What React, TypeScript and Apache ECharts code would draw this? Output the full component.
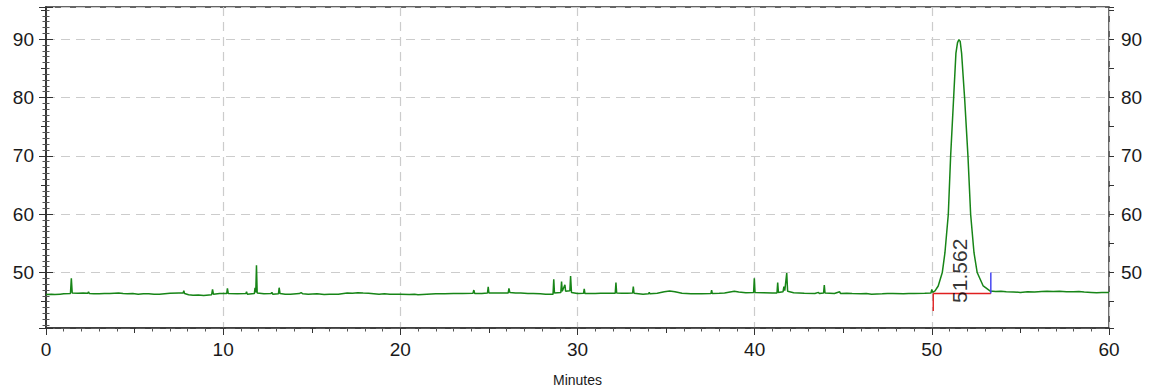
import React, { useEffect, useRef } from "react";
import * as echarts from "echarts";

// ---- data (minutes, response) ----
const baselineBeforePeak: [number, number][] = [
  [0, 46.25], [0.3, 46.3], [0.5, 46.22], [0.8, 46.3], [1.0, 46.35], [1.38, 46.4], [1.43, 49.0], [1.48, 46.5],
  [1.8, 46.45], [2.1, 46.5], [2.35, 46.45], [2.4, 46.7], [2.45, 46.4], [2.7, 46.35], [3.0, 46.35], [3.3, 46.42], [3.6, 46.4],
  [4.1, 46.5], [4.35, 46.42], [4.6, 46.35], [4.9, 46.4], [5.2, 46.3], [5.5, 46.38], [5.8, 46.35], [6.1, 46.28], [6.4, 46.3], [6.7, 46.38], [7.0, 46.45],
  [7.5, 46.5], [7.74, 46.5], [7.78, 46.9], [7.82, 46.4], [8.05, 46.2], [8.3, 46.1], [8.6, 46.15], [8.9, 46.05],
  [9.35, 46.2], [9.4, 47.1], [9.45, 46.3], [9.8, 46.4], [10.2, 46.4], [10.24, 47.3],
  [10.29, 46.4], [10.8, 46.35], [11.28, 46.4], [11.32, 46.7], [11.36, 46.3], [11.76, 46.4],
  [11.8, 47.4], [11.84, 46.6], [11.88, 51.25], [11.92, 46.5], [12.3, 46.35], [12.7, 46.4],
  [12.75, 46.6], [12.8, 46.3], [13.12, 46.35], [13.16, 47.4], [13.21, 46.4], [13.5, 46.28], [13.8, 46.3],
  [14.3, 46.4], [14.4, 46.55], [14.5, 46.35], [14.8, 46.3], [15.3, 46.35], [15.7, 46.25], [16.0, 46.3], [16.5, 46.3],
  [17.0, 46.5], [17.3, 46.45], [17.6, 46.55], [17.9, 46.48], [18.2, 46.45], [18.5, 46.38], [18.8, 46.3], [19.1, 46.35], [19.4, 46.3], [20.0, 46.3],
  [20.5, 46.25], [20.8, 46.3], [21.0, 46.2], [21.5, 46.3], [22.0, 46.35], [22.5, 46.35], [23.0, 46.4],
  [23.5, 46.4], [24.1, 46.45], [24.15, 47.0], [24.2, 46.4], [24.6, 46.4], [24.92, 46.5],
  [24.96, 47.55], [25.0, 46.5], [25.6, 46.5], [26.09, 46.5], [26.13, 47.3], [26.18, 46.6],
  [26.5, 46.48], [26.8, 46.5], [27.2, 46.42], [27.5, 46.4], [27.9, 46.35], [28.2, 46.3], [28.62, 46.3], [28.66, 48.85], [28.7, 46.5],
  [29.06, 46.6], [29.1, 48.45], [29.14, 46.8], [29.29, 47.9], [29.33, 46.8], [29.57, 46.9],
  [29.61, 49.4], [29.66, 46.6], [30.0, 46.4], [30.34, 46.45], [30.38, 47.2], [30.42, 46.4],
  [31.0, 46.4], [31.3, 46.45], [31.6, 46.45], [32.13, 46.45], [32.17, 48.3], [32.21, 46.5], [32.5, 46.45], [32.8, 46.45],
  [33.11, 46.5], [33.15, 47.6], [33.19, 46.45], [33.7, 46.3], [34.01, 46.35], [34.05, 46.6],
  [34.09, 46.35], [34.5, 46.45], [34.9, 46.7], [35.2, 46.85], [35.5, 46.7], [35.9, 46.45],
  [36.4, 46.35], [36.7, 46.38], [37.0, 46.35], [37.53, 46.4], [37.57, 47.0], [37.61, 46.4], [38.0, 46.45], [38.3, 46.5],
  [38.85, 46.8], [39.1, 46.65], [39.5, 46.55], [39.94, 46.6], [39.98, 49.0], [40.02, 46.6],
  [40.5, 46.55], [41.0, 46.5], [41.26, 46.5], [41.3, 48.3], [41.34, 46.6], [41.6, 46.7],
  [41.65, 47.6], [41.7, 46.9], [41.81, 49.9], [41.86, 46.8], [42.2, 46.55], [42.8, 46.45],
  [43.4, 46.4], [43.6, 46.6], [43.65, 46.4], [43.89, 46.5], [43.93, 47.85], [43.97, 46.5],
  [44.5, 46.4], [44.8, 46.7], [44.85, 46.4], [45.2, 46.45], [45.5, 46.4], [46.0, 46.35], [46.3, 46.4], [46.6, 46.3],
  [47.2, 46.35], [47.5, 46.42], [47.8, 46.4], [48.4, 46.35], [48.7, 46.42], [49.0, 46.4], [49.6, 46.45], [49.95, 46.5],
  [50.0, 47.1], [50.05, 46.6],
];

const peakProfile: [number, number][] = [
  [50.18, 46.85], [50.36, 47.7], [50.59, 50.0], [50.74, 53.4], [50.93, 60.0], [51.06, 69.9],
  [51.23, 79.9], [51.36, 87.6], [51.45, 89.4], [51.53, 89.9], [51.6, 89.6], [51.68, 87.6],
  [51.85, 79.9], [52.04, 69.9], [52.19, 60.0], [52.38, 53.4], [52.56, 50.0], [52.9, 47.7],
  [53.28, 46.85],
];

const baselineAfterPeak: [number, number][] = [
  [53.6, 46.75], [53.9, 46.8], [54.2, 46.7], [54.6, 46.68], [55.0, 46.6], [55.4, 46.7], [55.8, 46.65], [56.2, 46.75], [56.5, 46.8], [56.85, 46.75], [57.2, 46.8],
  [57.6, 46.72], [58.0, 46.7], [58.3, 46.75], [58.6, 46.65], [59.0, 46.6], [59.3, 46.55], [59.6, 46.6], [60.0, 46.6],
];

const integrationBaseline: [number, number][] = [[50.08, 46.4], [53.33, 46.4]];
const peakStartMarker: [number, number][] = [[50.08, 46.4], [50.08, 43.4]];
const peakEndMarker: [number, number][] = [[53.33, 46.4], [53.33, 50.0]];
const peakLabelPoint: [number, number][] = [[51.55, 50.3]];
const peakLabelText = "51.562";

const xName = "Minutes";
const xMin = 0;
const xMax = 60;
const yMin = 40.5;
const yMax = 95.5;

const FONT = "'Liberation Sans', Arial, sans-serif";
const AXIS_COLOR = "#333";
const GRID_COLOR = "#cccccc";

export default function App() {
  const ref = useRef<HTMLDivElement>(null);

  useEffect(() => {
    if (!ref.current) return;
    const chart = echarts.init(ref.current, undefined, { renderer: "svg" });
    const trace = [...baselineBeforePeak, ...peakProfile, ...baselineAfterPeak];

    const labelStyle = { fontSize: 19, color: "#1a1a1a", fontFamily: FONT };

    const mainY = (position: "left" | "right", split: boolean) => ({
      type: "value",
      position,
      min: yMin,
      max: yMax,
      minInterval: 10,
      maxInterval: 10,
      axisLine: { show: true, lineStyle: { color: AXIS_COLOR, width: 1.5 } },
      axisTick: { show: true, inside: false, length: 7, lineStyle: { color: AXIS_COLOR } },
      minorTick: { show: true, splitNumber: 10, length: 3.5, lineStyle: { color: "#555" } },
      axisLabel: { ...labelStyle, margin: 12, showMinLabel: false, showMaxLabel: false },
      splitLine: { show: split, lineStyle: { color: GRID_COLOR, type: [9, 6], width: 1.2 } },
    });

    const fiveY = (position: "left" | "right") => ({
      type: "value",
      position,
      min: yMin,
      max: yMax,
      minInterval: 5,
      maxInterval: 5,
      axisLine: { show: false },
      axisTick: { show: true, inside: false, length: 5, lineStyle: { color: AXIS_COLOR } },
      axisLabel: { show: false },
      splitLine: { show: false },
    });

    chart.setOption({
      animation: false,
      backgroundColor: "#fff",
      textStyle: { fontFamily: FONT },
      grid: {
        left: 46,
        right: 45,
        top: 7,
        bottom: 63,
        show: true,
        borderColor: AXIS_COLOR,
        borderWidth: 1.5,
        backgroundColor: "transparent",
      },
      xAxis: [
        {
          type: "value",
          position: "bottom",
          min: xMin,
          max: xMax,
          interval: 10,
          axisLine: { show: true, lineStyle: { color: AXIS_COLOR, width: 1.5 } },
          axisTick: { show: true, inside: false, length: 7, lineStyle: { color: AXIS_COLOR } },
          minorTick: { show: true, splitNumber: 10, length: 3.5, lineStyle: { color: "#555" } },
          axisLabel: { ...labelStyle, margin: 12 },
          splitLine: { show: true, lineStyle: { color: GRID_COLOR, type: [9, 6], width: 1.2 } },
          name: xName,
          nameLocation: "middle",
          nameGap: 45,
          nameTextStyle: { fontSize: 14, color: "#1a1a1a", fontFamily: FONT },
        },
        {
          type: "value",
          position: "bottom",
          min: xMin,
          max: xMax,
          interval: 5,
          axisLine: { show: false },
          axisTick: { show: true, inside: false, length: 5, lineStyle: { color: AXIS_COLOR } },
          axisLabel: { show: false },
          splitLine: { show: false },
        },
      ],
      yAxis: [mainY("left", true), mainY("right", false), fiveY("left"), fiveY("right")],
      series: [
        {
          type: "line",
          name: "signal",
          data: trace,
          showSymbol: false,
          symbol: "none",
          lineStyle: { color: "#178517", width: 1.5 },
          z: 3,
        },
        {
          type: "line",
          data: integrationBaseline,
          symbol: "none",
          lineStyle: { color: "#e02020", width: 1.4 },
          z: 4,
        },
        {
          type: "line",
          data: peakStartMarker,
          symbol: "none",
          lineStyle: { color: "#e02020", width: 1.4 },
          z: 4,
        },
        {
          type: "line",
          data: peakEndMarker,
          symbol: "none",
          lineStyle: { color: "#3a3af0", width: 1.4 },
          z: 4,
        },
        {
          type: "scatter",
          data: peakLabelPoint,
          symbolSize: 1,
          itemStyle: { color: "transparent" },
          label: {
            show: true,
            position: "inside",
            rotate: 90,
            formatter: peakLabelText,
            fontSize: 21,
            color: "#000",
            fontFamily: FONT,
          },
          z: 5,
        },
      ],
    });

    return () => chart.dispose();
  }, []);

  return (
    <div
      ref={ref}
      style={{ position: "fixed", left: 0, top: 0, width: 1154, height: 392, background: "#fff" }}
    />
  );
}
